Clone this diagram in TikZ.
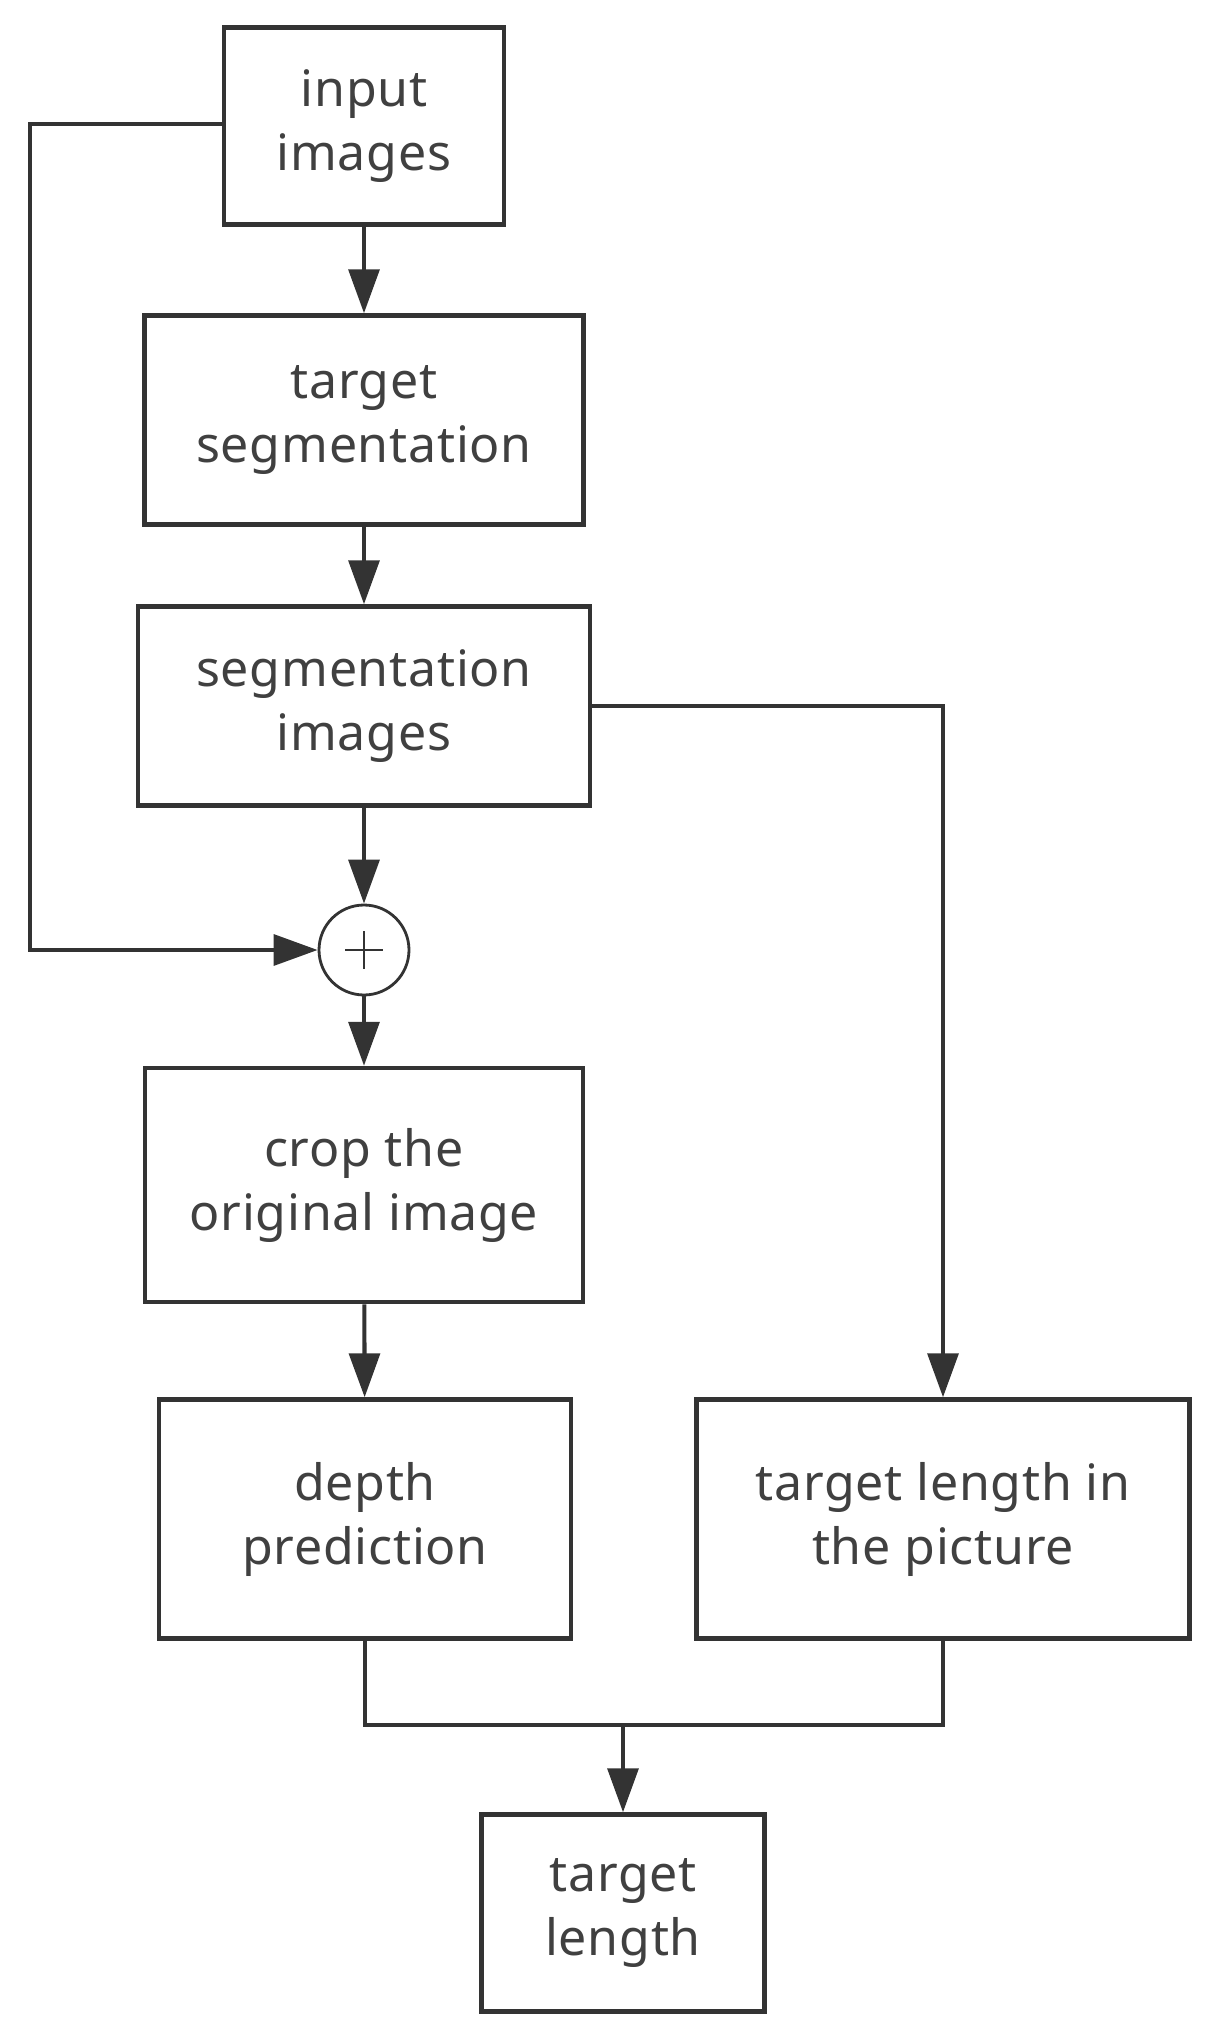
\documentclass[tikz,border=0pt]{standalone}
\usepackage{fontspec}
\setmainfont{Noto Sans}[LetterSpace=1.5]
\usepackage{tikz}
\usetikzlibrary{calc,arrows.meta}
\definecolor{ink}{HTML}{333333}
\definecolor{txt}{HTML}{404040}
\tikzstyle{block} = [rectangle, draw=ink, line width=2.6pt, text=txt, align=center, font=\fontsize{28.5}{36.4}\selectfont]
\tikzstyle{sum} = [circle, draw=ink, line width=1.6pt, minimum size=1.8cm, inner sep=0pt]
\tikzstyle{line} = [draw=ink, line width=2.3pt, -{Triangle[length=25pt, width=17.5pt]}]
\tikzstyle{wire} = [draw=ink, line width=2.3pt]

\begin{document}
\begin{tikzpicture}[x=0.02cm, y=-0.02cm]
    \useasboundingbox (0,0) rectangle (1214,2030);
    \node [block, minimum width=5.60cm, minimum height=3.94cm] (input) at (364,126) {input\\images};
    \node [block, minimum width=8.78cm, minimum height=4.18cm] (tseg) at (364,420) {target\\segmentation};
    \node [block, minimum width=9.04cm, minimum height=3.98cm] (segimg) at (364,706) {segmentation\\images};
    \node [sum] (plus) at (364,950) {};
    \node [block, minimum width=8.76cm, minimum height=4.68cm] (crop) at (364,1185) {crop the\\original image};
    \node [block, minimum width=8.24cm, minimum height=4.78cm] (depth) at (365,1519) {depth\\prediction};
    \node [block, minimum width=9.86cm, minimum height=4.78cm] (tlpic) at (943,1519) {target length in\\the picture};
    \node [block, minimum width=5.66cm, minimum height=3.94cm] (tlen) at (623,1913) {target\\length};
    \coordinate (bypass) at (30,124);
    \coordinate (merge) at (623,1725);

    % plus sign
    \draw [ink, line width=1.3pt] ($(plus.center)+(-19,0)$) -- ($(plus.center)+(19,0)$)
        ($(plus.center)+(0,-19)$) -- ($(plus.center)+(0,19)$);

    % main column
    \path [line] (input) -- (tseg);
    \path [line] (tseg) -- (segimg);
    \path [line] (segimg) -- (plus);
    \path [line] (plus) -- (crop);
    \path [line] (crop) -- (depth);
    % side branches
    \path [line] (input.west |- bypass) -- (bypass) |- (plus.west);
    \path [line] (segimg.east) -| (tlpic.north);
    \path [wire] (depth.south) |- (merge) -| (tlpic.south);
    \path [line] (merge) -- (merge |- tlen.north);
\end{tikzpicture}
\end{document}
